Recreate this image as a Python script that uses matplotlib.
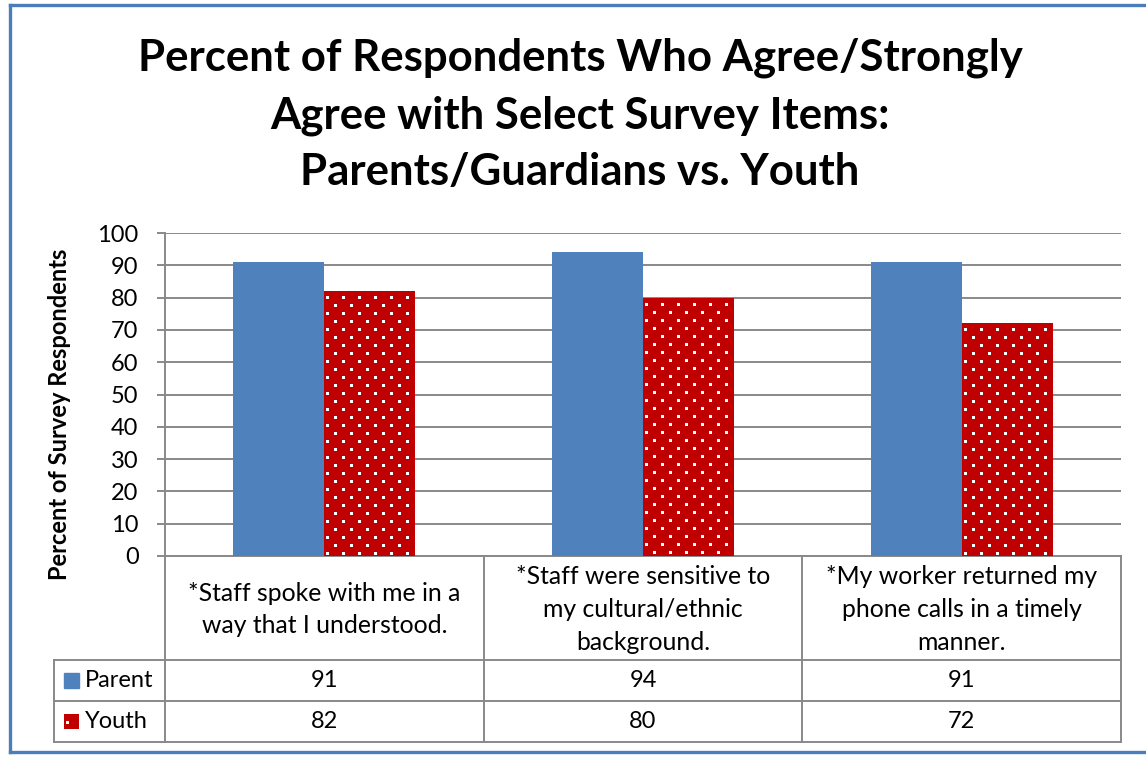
import numpy as np
import matplotlib
matplotlib.use("Agg")
import matplotlib.pyplot as plt
from matplotlib.colors import to_rgb
from matplotlib.patches import Rectangle
from matplotlib.lines import Line2D
from matplotlib.transforms import blended_transform_factory, Bbox

# ---- data ----
categories = [
    "*Staff spoke with me in a\nway that I understood.",
    "*Staff were sensitive to\nmy cultural/ethnic\nbackground.",
    "*My worker returned my\nphone calls in a timely\nmanner.",
]
series_names = ["Parent", "Youth"]
parent = [91, 94, 91]
youth = [82, 80, 72]
yticks = list(range(0, 101, 10))

title = ("Percent of Respondents Who Agree/Strongly\n"
         "Agree with Select Survey Items:\n"
         "Parents/Guardians vs. Youth")
ylabel = "Percent of Survey Respondents"

# ---- style ----
W, H = 1146, 757
BLUE = "#4F81BD"
RED = "#C00000"
GRID = "#898989"
BORDER = "#4A7EBB"
FS = 17

plt.rcParams["font.family"] = ["Lato", "DejaVu Sans"]


def fx(px):
    return px / W


def fy(py):
    return 1 - py / H


def dot_fill(fig, bbox, period=16, row_step=8, dot=3, top_gap=6):
    # Excel-style dotted fill: white dots on red, pixel aligned
    x0, y0 = int(round(bbox.x0)), int(round(bbox.y0))
    x1, y1 = int(round(bbox.x1)), int(round(bbox.y1))
    w, h = x1 - x0, y1 - y0
    img = np.ones((h, w, 4))
    img[..., :3] = to_rgb(RED)
    for j, top in enumerate(range(h - top_gap, dot - 1, -row_step)):
        shift = 2 if j % 2 == 0 else 2 + period // 2
        for left in range(shift, w - 1, period):
            img[top - dot + 1:top + 1, left:left + dot, :3] = 1.0
    fig.figimage(img, xo=x0, yo=y0, origin="lower", zorder=5)


fig = plt.figure(figsize=(W / 100, H / 100), dpi=100)

# chart frame (right side runs off the picture)
bkw = dict(color=BORDER, linewidth=2.4, transform=fig.transFigure)
fig.add_artist(Line2D([fx(9.5), 1.05], [fy(5), fy(5)], **bkw))
fig.add_artist(Line2D([fx(9.5), 1.05], [fy(751.5), fy(751.5)], **bkw))
fig.add_artist(Line2D([fx(9.5), fx(9.5)], [fy(5), fy(751.5)], **bkw))

fig.text(fx(580), fy(115), title, ha="center", va="center",
         fontsize=31.5, fontweight="bold", linespacing=1.5)

ax = fig.add_axes([fx(165), fy(556), fx(1121) - fx(165), fy(233) - fy(556)])
x = np.arange(len(categories))
w = 0.286
ax.bar(x - w / 2, parent, w, color=BLUE, zorder=3)
ybars = ax.bar(x + w / 2, youth, w, color=RED, linewidth=0, zorder=3)

ax.set_xlim(-0.5, len(categories) - 0.5)
ax.set_ylim(0, 100)
ax.set_yticks(yticks)
ax.set_xticks([])
ax.grid(axis="y", color=GRID, linewidth=1.4, zorder=0)
for s in ["top", "right"]:
    ax.spines[s].set_visible(False)
for s in ["left", "bottom"]:
    ax.spines[s].set_color(GRID)
    ax.spines[s].set_linewidth(1.4)
ax.tick_params(axis="y", length=6, width=1.4, color=GRID, pad=13,
               labelsize=FS)

for b in ybars:
    dot_fill(fig, b.get_window_extent())

fig.text(fx(60), fy(414), ylabel, rotation=90, ha="center", va="center",
         fontsize=17, fontweight="bold")

# ---- data table below the axis ----
tr = blended_transform_factory(ax.transData, fig.transFigure)
edges = np.arange(len(categories) + 1) - 0.5
row_y = [fy(556), fy(660), fy(701), fy(742)]
tab_left = fx(54)
lkw = dict(color=GRID, linewidth=1.4, clip_on=False)

for yy in row_y[1:]:
    fig.add_artist(Line2D([tab_left, fx(1121)], [yy, yy],
                          transform=fig.transFigure, **lkw))
for e in edges:
    ax.add_line(Line2D([e, e], [row_y[0], row_y[-1]], transform=tr, **lkw))
fig.add_artist(Line2D([tab_left, tab_left], [row_y[1], row_y[-1]],
                      transform=fig.transFigure, **lkw))

for i, cat in enumerate(categories):
    ax.text(x[i], (row_y[0] + row_y[1]) / 2 - 1.5 / H, cat, transform=tr,
            ha="center", va="center", fontsize=17.8, linespacing=1.5)

for r, (name, vals) in enumerate(zip(series_names, [parent, youth])):
    yc = (row_y[r + 1] + row_y[r + 2]) / 2
    key = Bbox.from_bounds(64, yc * H - 7.5, 15, 15)
    if name == "Parent":
        fig.add_artist(Rectangle((key.x0 / W, key.y0 / H), 15 / W, 15 / H,
                                 transform=fig.transFigure, color=BLUE))
    else:
        dot_fill(fig, key, top_gap=8)
    fig.text(fx(85), yc, name, ha="left", va="center", fontsize=FS)
    for i, v in enumerate(vals):
        ax.text(x[i], yc, str(v), transform=tr, ha="center", va="center",
                fontsize=FS)

fig.savefig("out.png", dpi=100)
